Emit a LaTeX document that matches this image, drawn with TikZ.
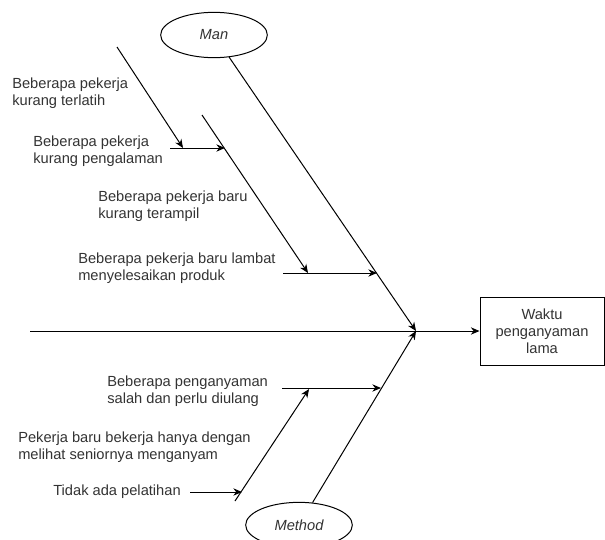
\documentclass[tikz,border=0pt]{standalone}
\usepackage{fontspec}
\setmainfont{Liberation Sans}
\usepackage{tikz}
\usetikzlibrary{arrows.meta,shapes.geometric}
\definecolor{txtgray}{HTML}{333333}

\begin{document}
\begin{tikzpicture}[x=0.75pt,y=-0.75pt,
  bone/.style={line width=0.75pt,-{Stealth[length=6.5pt,width=5.5pt]}},
  cause/.style={anchor=west,align=left,inner sep=0pt,text=txtgray,
    font=\fontsize{11}{12.75}\selectfont},
  category/.style={draw,ellipse,line width=0.75pt,inner sep=0pt,
    minimum width=80pt,minimum height=34pt,text=txtgray,
    font=\fontsize{11}{12.75}\selectfont\itshape}]
  \useasboundingbox (0,0) rectangle (605,539);
  % head of the fish
  \node[draw,line width=0.75pt,align=center,text=txtgray,inner sep=0pt,
    minimum width=93pt,minimum height=51pt,
    font=\fontsize{11}{12.75}\selectfont] (effect) at (542,331)
    {Waktu\\penganyaman\\lama};
  \node[category] (man) at (214,35) {Man};
  \node[category] (method) at (299,525) {Method};
  \coordinate (tail) at (30,331);
  \coordinate (head) at (416,331);
  \draw[bone] (tail) -- (effect);
  \draw[bone] (man) -- (head);
  \draw[bone] (method) -- (head);

  % causes under Man
  \node[cause] (terlatih) at (12,93) {Beberapa pekerja\\kurang terlatih};
  \node[cause] (pengalaman) at (33,151) {Beberapa pekerja\\kurang pengalaman};
  \node[cause] (terampil) at (98,206) {Beberapa pekerja baru\\kurang terampil};
  \node[cause] (lambat) at (78,268) {Beberapa pekerja baru lambat\\menyelesaikan produk};
  \coordinate (d1s) at (117,47);  \coordinate (d1e) at (183,148);
  \coordinate (h1s) at (170,148); \coordinate (h1e) at (225,148);
  \coordinate (d2s) at (202,115); \coordinate (d2e) at (308,273);
  \coordinate (h2s) at (283,273); \coordinate (h2e) at (377,273);
  \draw[bone] (d1s) -- (d1e);
  \draw[bone] (h1s) -- (h1e);
  \draw[bone] (d2s) -- (d2e);
  \draw[bone] (h2s) -- (h2e);

  % causes under Method
  \node[cause] (diulang) at (107,391) {Beberapa penganyaman\\salah dan perlu diulang};
  \node[cause] (senior) at (18,447) {Pekerja baru bekerja hanya dengan\\melihat seniornya menganyam};
  \node[cause] (pelatihan) at (53,492) {Tidak ada pelatihan};
  \coordinate (d3s) at (235,501); \coordinate (d3e) at (309,389);
  \coordinate (h3s) at (282,388); \coordinate (h3e) at (381,388);
  \coordinate (h4e) at (242,492);
  \draw[bone] (d3s) -- (d3e);
  \draw[bone] (h3s) -- (h3e);
  \draw[bone] ([xshift=7pt]pelatihan.east) -- (h4e);
\end{tikzpicture}
\end{document}
